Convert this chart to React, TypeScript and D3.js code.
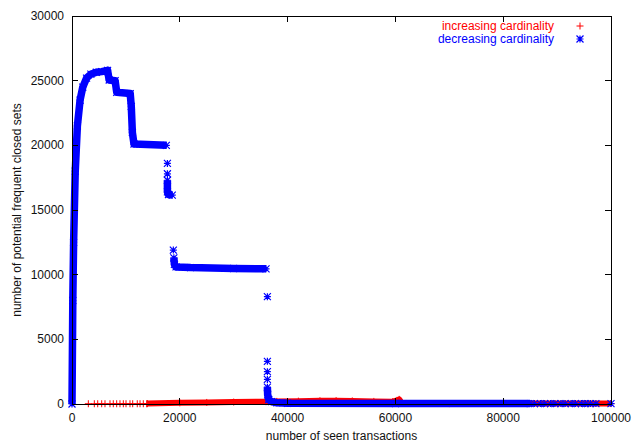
import React from "react";
import * as d3 from "d3";

// x: number of seen transactions, y: number of potential frequent closed sets
const xTicks = [0, 20000, 40000, 60000, 80000, 100000];
const yTicks = [0, 5000, 10000, 15000, 20000, 25000, 30000];

// increasing cardinality: isolated early points, then a dense run
const incSparse: [number, number][] = [
  [3030, 20], [4140, 20], [4770, 20], [5510, 20], [6120, 20], [7050, 20],
  [7660, 20], [8290, 20], [8900, 20], [9520, 20], [10020, 20], [10760, 20],
  [11260, 20], [12110, 20], [12620, 20], [13230, 20], [13850, 20],
];
const incDense: [number, number][] = [
  [14000, 30], [20000, 90], [25000, 120], [30000, 150], [36000, 180],
  [38000, 200], [42000, 220], [46000, 250], [49000, 260], [52000, 240],
  [56000, 200], [59500, 180], [60300, 280], [60700, 360], [61000, 150],
  [62000, 40], [70000, 30], [100000, 30],
];

// decreasing cardinality: dense runs separated by jumps
const decRunA: [number, number][] = [
  [0, 0], [150, 8000], [300, 12500], [600, 18000], [1000, 21500],
  [1500, 23500], [2000, 24500], [2700, 25200], [3500, 25500], [4500, 25650],
  [5500, 25700], [6600, 25800], [6900, 25050], [8000, 25000], [8300, 24100],
  [10800, 24000], [11000, 23000], [11200, 21000], [11500, 20100], [17500, 20000],
];
const decRunB: [number, number][] = [
  [17700, 17300], [17700, 16400], [17900, 16200], [18600, 16150],
];
const decRunC: [number, number][] = [
  [18900, 11300], [19000, 10800], [19300, 10600], [22000, 10550],
  [30000, 10480], [36000, 10450],
];
const decRunD: [number, number][] = [
  [36250, 1300], [36300, 700], [36500, 350], [37000, 180], [38000, 100],
  [40000, 60], [60000, 40], [85000, 30],
];
const decSparse: [number, number][] = [
  [17700, 18600], [17700, 17800], [18800, 11900],
  [36250, 8300], [36250, 3300], [36250, 2500], [36250, 1900],
  [85800, 30], [86900, 30], [87700, 30], [88800, 30], [89600, 30],
  [90700, 30], [91500, 30], [92600, 30], [93400, 30], [94500, 30],
  [95300, 30], [96200, 30], [97200, 30], [100000, 30],
];

const W = 634;
const H = 445;
const M = { left: 72, right: 611, top: 16, bottom: 404 };
const RED = "#ff0000";
const BLUE = "#0000ff";
const FONT = "'Liberation Sans', Arial, Helvetica, sans-serif";

const Plus = ({ x, y, c, r = 3.5 }: { x: number; y: number; c: string; r?: number }) => (
  <path d={`M${x - r},${y}H${x + r}M${x},${y - r}V${y + r}`} stroke={c} strokeWidth={1} fill="none" />
);

const Star = ({ x, y, c, r = 3.5 }: { x: number; y: number; c: string; r?: number }) => (
  <path
    d={`M${x - r},${y}H${x + r}M${x},${y - r}V${y + r}M${x - r},${y - r}L${x + r},${y + r}M${x - r},${y + r}L${x + r},${y - r}`}
    stroke={c}
    strokeWidth={1.2}
    fill="none"
  />
);

export default function App() {
  const x = d3.scaleLinear().domain([0, 100000]).range([M.left, M.right]);
  const y = d3.scaleLinear().domain([0, 30000]).range([M.bottom, M.top]);
  const line = d3
    .line<[number, number]>()
    .x((d) => x(d[0]))
    .y((d) => y(d[1]));

  const tickLen = 6;

  return (
    <svg
      width={W}
      height={H}
      style={{ position: "absolute", left: 0, top: 0, background: "#fff" }}
      fontFamily={FONT}
    >
      <rect width={W} height={H} fill="#fff" />

      {/* increasing cardinality */}
      <path d={line(incDense) || ""} stroke={RED} strokeWidth={6} fill="none" strokeLinejoin="round" />
      {incDense.map((d, i) => (
        <Plus key={`id${i}`} x={x(d[0])} y={y(d[1])} c={RED} />
      ))}
      {incSparse.map((d, i) => (
        <Plus key={`is${i}`} x={x(d[0])} y={y(d[1])} c={RED} />
      ))}

      {/* decreasing cardinality */}
      {[decRunA, decRunB, decRunC, decRunD].map((run, k) => (
        <g key={`run${k}`}>
          <path d={line(run) || ""} stroke={BLUE} strokeWidth={7.5} fill="none" strokeLinejoin="round" />
          {run.map((d, i) => (
            <Star key={i} x={x(d[0])} y={y(d[1])} c={BLUE} />
          ))}
        </g>
      ))}
      {decSparse.map((d, i) => (
        <Star key={`ds${i}`} x={x(d[0])} y={y(d[1])} c={BLUE} />
      ))}

      {/* frame and ticks */}
      <g shapeRendering="crispEdges" stroke="#000" strokeWidth={1} fill="none">
        <rect x={M.left} y={M.top} width={M.right - M.left} height={M.bottom - M.top} />
        {xTicks.map((t) => (
          <g key={`xt${t}`}>
            <line x1={x(t)} x2={x(t)} y1={M.bottom} y2={M.bottom - tickLen} />
            <line x1={x(t)} x2={x(t)} y1={M.top} y2={M.top + tickLen} />
          </g>
        ))}
        {yTicks.map((t) => (
          <g key={`yt${t}`}>
            <line x1={M.left} x2={M.left + tickLen} y1={y(t)} y2={y(t)} />
            <line x1={M.right} x2={M.right - tickLen} y1={y(t)} y2={y(t)} />
          </g>
        ))}
      </g>

      {/* tick labels */}
      <g fontSize={12} fill="#111">
        {xTicks.map((t) => (
          <text key={`xl${t}`} x={x(t)} y={M.bottom + 18} textAnchor="middle">
            {t}
          </text>
        ))}
        {yTicks.map((t) => (
          <text key={`yl${t}`} x={M.left - 8} y={y(t) + 4} textAnchor="end">
            {t}
          </text>
        ))}
      </g>

      {/* axis titles */}
      <text x={(M.left + M.right) / 2} y={440} textAnchor="middle" fontSize={12} fill="#111">
        number of seen transactions
      </text>
      <text
        transform={`translate(21,${(M.top + M.bottom) / 2}) rotate(-90)`}
        textAnchor="middle"
        fontSize={12}
        fill="#111"
      >
        number of potential frequent closed sets
      </text>

      {/* legend */}
      <g fontSize={12}>
        <text x={554} y={30} textAnchor="end" fill={RED}>
          increasing cardinality
        </text>
        <Plus x={580} y={26} c={RED} />
        <text x={554} y={43} textAnchor="end" fill={BLUE}>
          decreasing cardinality
        </text>
        <Star x={580} y={39} c={BLUE} />
      </g>
    </svg>
  );
}
